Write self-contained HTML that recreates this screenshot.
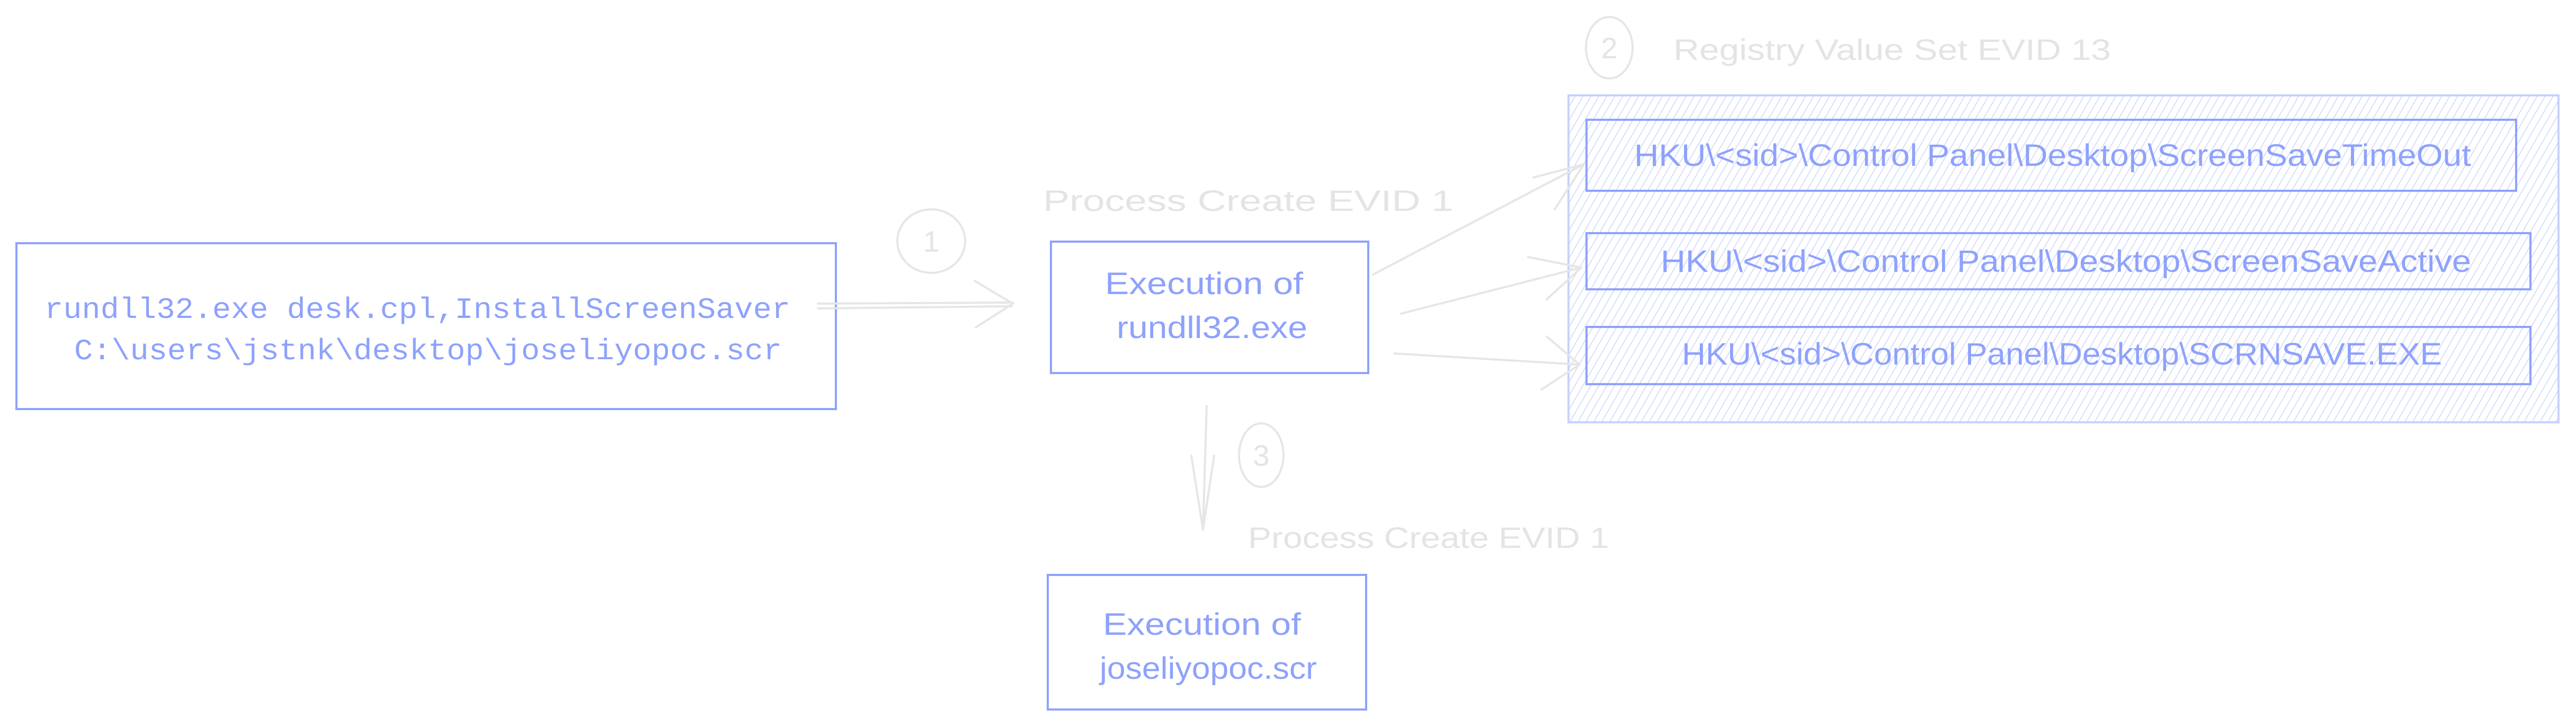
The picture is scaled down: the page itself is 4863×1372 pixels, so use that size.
<!DOCTYPE html>
<html><head><meta charset="utf-8"><style>
html,body{margin:0;padding:0;background:#fff;}
svg{display:block;}
</style></head><body>
<svg width="4863" height="1372" viewBox="0 0 4863 1372" xmlns="http://www.w3.org/2000/svg">
<defs>
<pattern id="h" patternUnits="userSpaceOnUse" width="13" height="13" patternTransform="rotate(30)">
<line x1="0" y1="0" x2="0" y2="13" stroke="#cdd6fd" stroke-width="3"/>
</pattern>
</defs>
<g fill="none" stroke-linecap="round">
<rect x="31" y="459" width="1547" height="313" stroke="#8ea2fc" stroke-width="4"/>
<g stroke="#e6e6e6" stroke-width="4">
<line x1="1544" y1="573" x2="1912" y2="571"/>
<line x1="1544" y1="582" x2="1910" y2="578"/>
<polyline points="1840,530 1912,573 1842,618"/>
<ellipse cx="1758" cy="455" rx="64" ry="60"/>
</g>
<rect x="1984" y="456" width="599" height="248" stroke="#8ea2fc" stroke-width="4"/>
<rect x="2961" y="180" width="1869" height="617" fill="url(#h)" stroke="#c8d2fd" stroke-width="4"/>
<rect x="2995" y="226" width="1755" height="134" stroke="#8ea2fc" stroke-width="4"/>
<rect x="2995" y="440" width="1782" height="106" stroke="#8ea2fc" stroke-width="4"/>
<rect x="2995" y="617" width="1782" height="108" stroke="#8ea2fc" stroke-width="4"/>
<g stroke="#e6e6e6" stroke-width="4">
<line x1="2592" y1="518" x2="2990" y2="310"/>
<polyline points="2895,335 2990,310 2935,395"/>
<line x1="2645" y1="592" x2="2985" y2="505"/>
<polyline points="2885,485 2985,505 2920,565"/>
<line x1="2632" y1="667" x2="2982" y2="688"/>
<polyline points="2920,635 2982,688 2910,735"/>
<ellipse cx="3038" cy="90" rx="44" ry="58"/>
</g>
<g stroke="#e6e6e6" stroke-width="4">
<line x1="2278" y1="766" x2="2271" y2="1000"/>
<polyline points="2249,860 2271,1000 2292,860"/>
<ellipse cx="2381" cy="859" rx="42" ry="60"/>
</g>
<rect x="1978" y="1085" width="601" height="254" stroke="#8ea2fc" stroke-width="4"/>
</g>
<g font-family="Liberation Sans, sans-serif" fill="#e4e4e4" font-size="56">
<text x="1758" y="475" text-anchor="middle">1</text>
<text x="3038" y="110" text-anchor="middle">2</text>
<text x="2381" y="879" text-anchor="middle">3</text>
<text x="1969" y="398" textLength="775" lengthAdjust="spacingAndGlyphs">Process Create EVID 1</text>
<text x="2356" y="1034" textLength="682" lengthAdjust="spacingAndGlyphs">Process Create EVID 1</text>
<text x="3159" y="113" textLength="826" lengthAdjust="spacingAndGlyphs">Registry Value Set EVID 13</text>
</g>
<g font-family="Liberation Mono, monospace" fill="#8ea2fc" font-size="56">
<text x="84" y="600" textLength="1408" lengthAdjust="spacingAndGlyphs">rundll32.exe desk.cpl,InstallScreenSaver</text>
<text x="140" y="678" textLength="1336" lengthAdjust="spacingAndGlyphs">C:\users\jstnk\desktop\joseliyopoc.scr</text>
</g>
<g font-family="Liberation Sans, sans-serif" fill="#8ea2fc" font-size="58">
<text x="2086" y="555" textLength="374" lengthAdjust="spacingAndGlyphs">Execution of</text>
<text x="2108" y="638" textLength="360" lengthAdjust="spacingAndGlyphs">rundll32.exe</text>
<text x="2082" y="1198" textLength="374" lengthAdjust="spacingAndGlyphs">Execution of</text>
<text x="2076" y="1281" textLength="410" lengthAdjust="spacingAndGlyphs">joseliyopoc.scr</text>
<text x="3085" y="313" textLength="1580" lengthAdjust="spacingAndGlyphs">HKU\&lt;sid&gt;\Control Panel\Desktop\ScreenSaveTimeOut</text>
<text x="3135" y="513" textLength="1530" lengthAdjust="spacingAndGlyphs">HKU\&lt;sid&gt;\Control Panel\Desktop\ScreenSaveActive</text>
<text x="3175" y="688" textLength="1435" lengthAdjust="spacingAndGlyphs">HKU\&lt;sid&gt;\Control Panel\Desktop\SCRNSAVE.EXE</text>
</g>
</svg>
</body></html>
